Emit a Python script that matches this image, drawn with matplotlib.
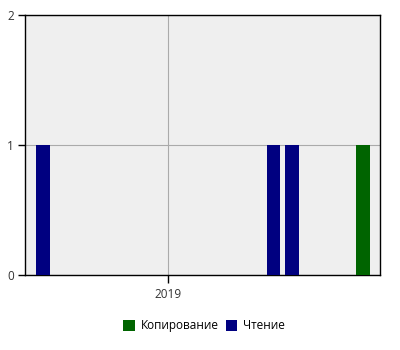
import matplotlib
matplotlib.use("Agg")
import matplotlib.pyplot as plt
import matplotlib.dates as mdates
import numpy as np
import datetime as dt

plt.rcParams['font.family'] = ['Open Sans', 'DejaVu Sans']

# data: count per month
read_dates = [dt.date(2018, 6, 1), dt.date(2019, 7, 1), dt.date(2019, 8, 1)]
read_counts = [1, 1, 1]
copy_dates = [dt.date(2019, 12, 1)]
copy_counts = [1]

fig = plt.figure(figsize=(4, 3.5), dpi=100)
ax = fig.add_axes([0.0625, 0.2143, 0.8875, 0.7429])
ax.set_facecolor('#efefef')

ax.bar(copy_dates, copy_counts, width=23, color='#006400', label='Копирование', zorder=3)
ax.bar(read_dates, read_counts, width=23, color='#000080', label='Чтение', zorder=3)

ax.set_xlim(dt.date(2018, 5, 1), dt.date(2019, 12, 30))
ax.set_ylim(0, 2)
ax.set_yticks([0, 1, 2])
ax.set_xticks([dt.date(2019, 1, 1)])
ax.xaxis.set_major_formatter(mdates.DateFormatter('%Y'))
ax.grid(True, color='#aaaaaa', linewidth=0.8, zorder=1)
ax.set_axisbelow(True)
for s in ax.spines.values():
    s.set_color('black')
    s.set_linewidth(1)
ax.tick_params(axis='both', labelsize=8.5, colors='black', length=5, width=1)
ax.tick_params(axis='x', pad=4, length=5.5)
ax.tick_params(axis='y', pad=3)
for lbl in ax.get_xticklabels() + ax.get_yticklabels():
    lbl.set_color('#333333')

fig.legend(loc='center', bbox_to_anchor=(0.51, 0.069), ncol=2, frameon=False,
           fontsize=8.5, handlelength=1.0, handleheight=1.0, handletextpad=0.5,
           columnspacing=0.6)

fig.savefig('out.png', dpi=100)
